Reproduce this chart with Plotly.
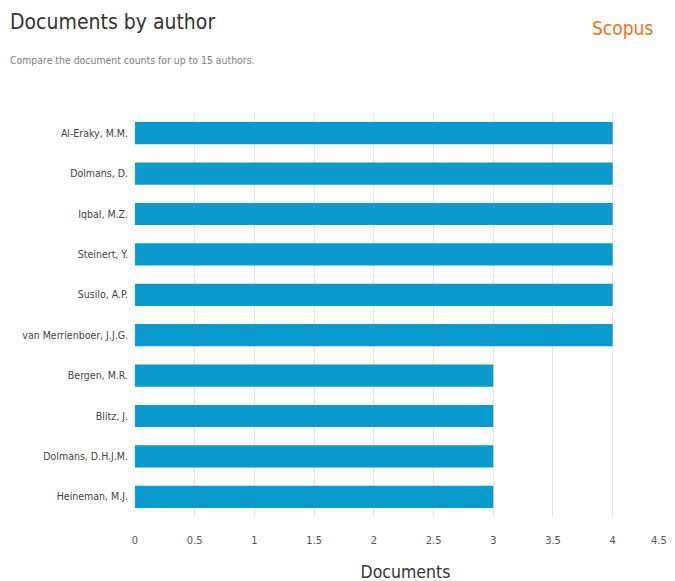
import plotly.graph_objects as go

authors = ["Al-Eraky, M.M.", "Dolmans, D.", "Iqbal, M.Z.", "Steinert, Y.", "Susilo, A.P.",
           "van Merrienboer, J.J.G.", "Bergen, M.R.", "Blitz, J.", "Dolmans, D.H.J.M.", "Heineman, M.J."]
documents = [4, 4, 4, 4, 4, 4, 3, 3, 3, 3]
tick_vals = [0, 0.5, 1, 1.5, 2, 2.5, 3, 3.5, 4, 4.5]
tick_text = ["0", "0.5", "1", "1.5", "2", "2.5", "3", "3.5", "4", "4.5"]

FONT = "DejaVu Sans Condensed"

W, H = 675, 581
OFF = 8  # page body margin
X_MAX = 4.53
# plot area in page pixels: x 135..(672 for 4.5), y 113..517
unit = (672 - 135) / 4.5
x_end_page = 135 + unit * X_MAX
l = 135 - OFF
r = W - (x_end_page - OFF)
t = 113 - OFF
b = H - (517 - OFF)
pw, ph = W - l - r, H - t - b
def px(x): return (x - OFF - l) / pw
def py(y): return (H - b - (y - OFF)) / ph

fig = go.Figure(go.Bar(
    x=documents, y=authors, orientation="h",
    marker=dict(color="#0b9acd", line=dict(width=0)),
    width=0.55,
))

# the last tick label sits flush against the right edge (right-aligned)
shown_text = tick_text[:-1] + [""]

fig.update_layout(
    width=W, height=H,
    margin=dict(l=l, r=r, t=t, b=b, autoexpand=False),
    paper_bgcolor="white", plot_bgcolor="white",
    font=dict(family=FONT, color="#444"),
    showlegend=False,
    xaxis=dict(range=[0, X_MAX], tickvals=tick_vals, ticktext=shown_text, automargin=False,
               showgrid=True, gridcolor="#e6e6e6", gridwidth=1, zeroline=False,
               showline=False, ticks="", tickfont=dict(size=11, color="#555"),
               ticklabelstandoff=15,
               title=dict(text="Documents", font=dict(size=17.5, color="#333"), standoff=19)),
    yaxis=dict(categoryorder="array", categoryarray=authors, autorange="reversed", automargin=False,
               showgrid=False, zeroline=False, showline=False, ticks="",
               tickfont=dict(size=10.5, color="#444"), ticksuffix="  "),
)
fig.add_annotation(text=tick_text[-1], x=tick_vals[-1], xref="x", y=py(540), yref="paper",
                   xanchor="right", yanchor="middle", showarrow=False, xshift=-3,
                   font=dict(size=11, color="#555", family=FONT))
fig.add_annotation(text="Documents by author", x=px(8), y=py(22), xref="paper", yref="paper",
                   xanchor="left", yanchor="middle", showarrow=False,
                   font=dict(size=21, color="#333", family=FONT))
fig.add_annotation(text="Compare the document counts for up to 15 authors.", x=px(8), y=py(60),
                   xref="paper", yref="paper", xanchor="left", yanchor="middle", showarrow=False,
                   font=dict(size=10.4, color="#808080", family=FONT))
fig.add_annotation(text="Scopus", x=px(622), y=py(28), xref="paper", yref="paper",
                   xanchor="center", yanchor="middle", showarrow=False,
                   font=dict(size=19, color="#e87722", family=FONT))

fig.write_html("out.html")
